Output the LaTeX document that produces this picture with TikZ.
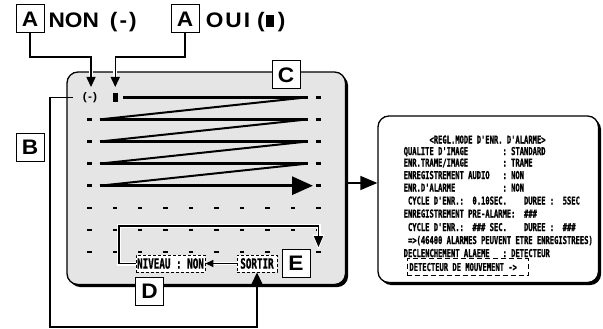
\documentclass[tikz,border=0pt]{standalone}
\usepackage{fontspec}
\setmainfont{Liberation Sans}
\newfontfamily\labfont{Liberation Sans}[FakeStretch=1.08]
\newfontfamily\scrfont{DejaVu Sans Mono}[FakeStretch=0.661, FakeBold=1, Ligatures=TeXOff]
\usetikzlibrary{arrows.meta,shadows}
\newlength\cw \setlength\cw{4.3pt}
\newcommand\spc[1]{\hspace{#1\cw}}
\newcommand\lsp{\hspace{5.57pt}}
\begin{document}
\begin{tikzpicture}[x=1pt,y=-1pt,
  lab/.style={draw,line width=1pt,fill=white,minimum width=28pt,minimum height=28pt,inner sep=0pt,font={\labfont\bfseries\fontsize{21}{22}\selectfont}},
  big/.style={anchor=base west,inner sep=0pt,font={\labfont\bfseries\fontsize{21}{22}\selectfont}},
  conn/.style={line width=1.5pt},
  lscreen/.style={draw,line width=1.3pt,fill=gray!20,rounded corners=11pt,inner sep=0pt,
     drop shadow={shadow xshift=2.6pt,shadow yshift=-2.6pt,opacity=1,fill=black}},
  rscreen/.style={draw,line width=1.3pt,fill=white,rounded corners=11pt,inner sep=0pt,
     drop shadow={shadow xshift=2.6pt,shadow yshift=-2.6pt,opacity=1,fill=black}},
  rtext/.style={anchor=base west,inner sep=0pt,font={\scrfont\bfseries\fontsize{10.8}{11}\selectfont}},
  ltext/.style={font={\scrfont\bfseries\fontsize{14}{15}\selectfont}},
  dbox/.style={draw,line width=0.9pt,dash pattern=on 3pt off 2pt,fill=white,inner sep=0.3pt,minimum height=17pt}
]
\useasboundingbox (0,0) rectangle (603,329);

% screens
\node[lscreen,minimum width=278.5pt,minimum height=212.5pt] (scr1) at (206.25,178.25) {};
\node[rscreen,minimum width=220.5pt,minimum height=166.5pt] (scr2) at (488.25,199.25) {};

% faint dashes under the scan lines
\foreach \y in {97.3,119.4,141.5,163.6,185.7}
  \foreach \i in {1,...,8}
    \fill[gray!8] ({89.3+25.45*\i-2.2},{\y-1.3}) rectangle ++(4.4,2.6);
% black dashes
\foreach \y in {207.8,229.9,252}
  \foreach \i in {0,...,9}
    \fill ({89.3+25.45*\i-2.2},{\y-1.3}) rectangle ++(4.4,2.6);
\foreach \y in {119.4,141.5,163.6,185.7}
  \fill ({89.3-2.2},{\y-1.3}) rectangle ++(4.4,2.6);
\foreach \y in {97.3,119.4,141.5,163.6,185.7}
  \fill ({318.4-2.2},{\y-1.3}) rectangle ++(4.4,2.6);

% zigzag scan
\foreach \ya/\yb in {97.3/119.4,119.4/141.5,141.5/163.6,163.6/185.7}
  \draw[line width=2pt] (307.5,\ya) -- (100,\yb);
\draw[line width=3pt] (123,97.3) -- (307.5,97.3);
\foreach \y in {119.4,141.5,163.6}
  \draw[line width=3pt] (100,\y) -- (307.5,\y);
\draw[line width=3pt,-{Triangle[length=21pt,width=18pt]}] (100,185.7) -- (313,185.7);

% marks in first row
\node[inner sep=0pt,font={\labfont\bfseries\fontsize{11}{12}\selectfont}] (nonmark) at (90,97.3) {(\kern1.2pt-\kern1.2pt)};
\node[fill=black,minimum width=4.5pt,minimum height=8.5pt,inner sep=0pt] (ouimark) at (115.25,97.3) {};

% bottom menu items
\node[dbox,ltext,minimum width=69pt] (niv) at (170.5,263.5) {NIVEAU\lsp:\lsp NON};
\node[dbox,ltext,minimum width=40pt] (sor) at (257,263.5) {SORTIR};

% frame path
\coordinate (fe) at (318.5,247);
\draw[white,line width=4pt] (niv.west) -- (119,263.5) |- (318.5,226) -- (318.5,238);
\fill[white] (312.5,234.5) -- (324.5,234.5) -- (318.5,249.5) -- cycle;
\draw[line width=1.3pt,-{Triangle[length=11pt,width=9pt]}] (niv.west) -- (119,263.5) |- (318.5,226) -- (fe);

\draw[white,line width=3.5pt] (sor.west) -- ([xshift=8pt]niv.east);
\draw[line width=1.5pt,-{Triangle[length=8pt,width=7pt]}] (sor.west) -- (niv.east);

% labels
\node[lab] (A1) at (30,19) {A};
\node[lab] (A2) at (185,19) {A};
\node[lab] (B) at (30,147) {B};
\node[lab] (C) at (286,75) {C};
\node[lab] (D) at (149.5,291.5) {D};
\node[lab] (E) at (296,263) {E};

\node[big] (nonlbl) at (48.4,27.5) {NON\hspace{11pt}(\kern2pt-\kern2pt)};
\node[big] (ouilbl) at (205.6,27.5) {O\kern2pt U\kern2pt I\hspace{7pt}(\kern1.2pt\rule[0pt]{8pt}{13pt}\kern4pt)};

% connectors A
\coordinate (t1) at (91,87);
\coordinate (t2) at (115.25,87);
\draw[white,line width=4pt] (91,70) -- (91,78);
\draw[white,line width=4pt] (115.25,70) -- (115.25,78);
\draw[conn,-{Triangle[length=10pt,width=9pt]}] (A1.south) |- (91,57) -- (t1);
\draw[conn,-{Triangle[length=10pt,width=9pt]}] (A2.south) |- (115.25,57) -- (t2);

% connector B
\coordinate (bs) at (73,97.3);
\draw[conn,-{Triangle[length=12pt,width=11pt]}] (bs) -- (50,97.3) |- (257,327) -- (sor.south);

% arrow between screens
\coordinate (ay) at (0,183);
\draw[conn,-{Triangle[length=17pt,width=14pt]}] (scr1.east |- ay) -- (scr2.west |- ay);

% right screen text
\node[rtext] (r1) at ({403.5+6*4.3},143.5) {<REGL.MODE\spc{1}D'ENR.\spc{1}D'ALARME>};
\node[rtext] (r2) at (403.5,155) {QUALITE\spc{1}D'IMAGE\spc{8}:\spc{1}STANDARD};
\node[rtext] (r3) at (403.5,166.5) {ENR.TRAME/IMAGE\spc{8}:\spc{1}TRAME};
\node[rtext] (r4) at (403.5,179) {ENREGISTREMENT\spc{1}AUDIO\spc{3}:\spc{1}NON};
\node[rtext] (r5) at (403.5,191.5) {ENR.D'ALARME\spc{11}:\spc{1}NON};
\node[rtext] (r6) at ({403.5+4.3},204.5) {CYCLE\spc{1}D'ENR.:\spc{2}0.10SEC.\spc{4}DUREE\spc{1}:\spc{2}5SEC};
\node[rtext] (r7) at (403.5,217.5) {ENREGISTREMENT\spc{1}PRE-ALARME:\spc{2}\#\#\#};
\node[rtext] (r8) at ({403.5+4.3},231) {CYCLE\spc{1}D'ENR.:\spc{2}\#\#\#\spc{1}SEC.\spc{4}DUREE\spc{1}:\spc{2}\#\#\#};
\node[rtext] (r9) at ({403.5+4.3},244) {=>(46400\spc{1}ALARMES\spc{1}PEUVENT\spc{1}ETRE\spc{1}ENREGISTREES)};
\node[rtext] (r10) at (403.5,257) {DECLENCHEMENT\spc{1}ALAEME\spc{3}:\spc{1}DETECTEUR};
\node[draw,line width=0.9pt,dash pattern=on 5pt off 3pt,inner xsep=2.5pt,inner ysep=0pt,minimum height=17pt,anchor=west,
      font={\scrfont\bfseries\fontsize{10.8}{11}\selectfont}] (r11) at (406.5,267)
      {\makebox[116pt][l]{DETECTEUR\spc{1}DE\spc{1}MOUVEMENT\spc{1}->}};
\end{tikzpicture}
\end{document}
